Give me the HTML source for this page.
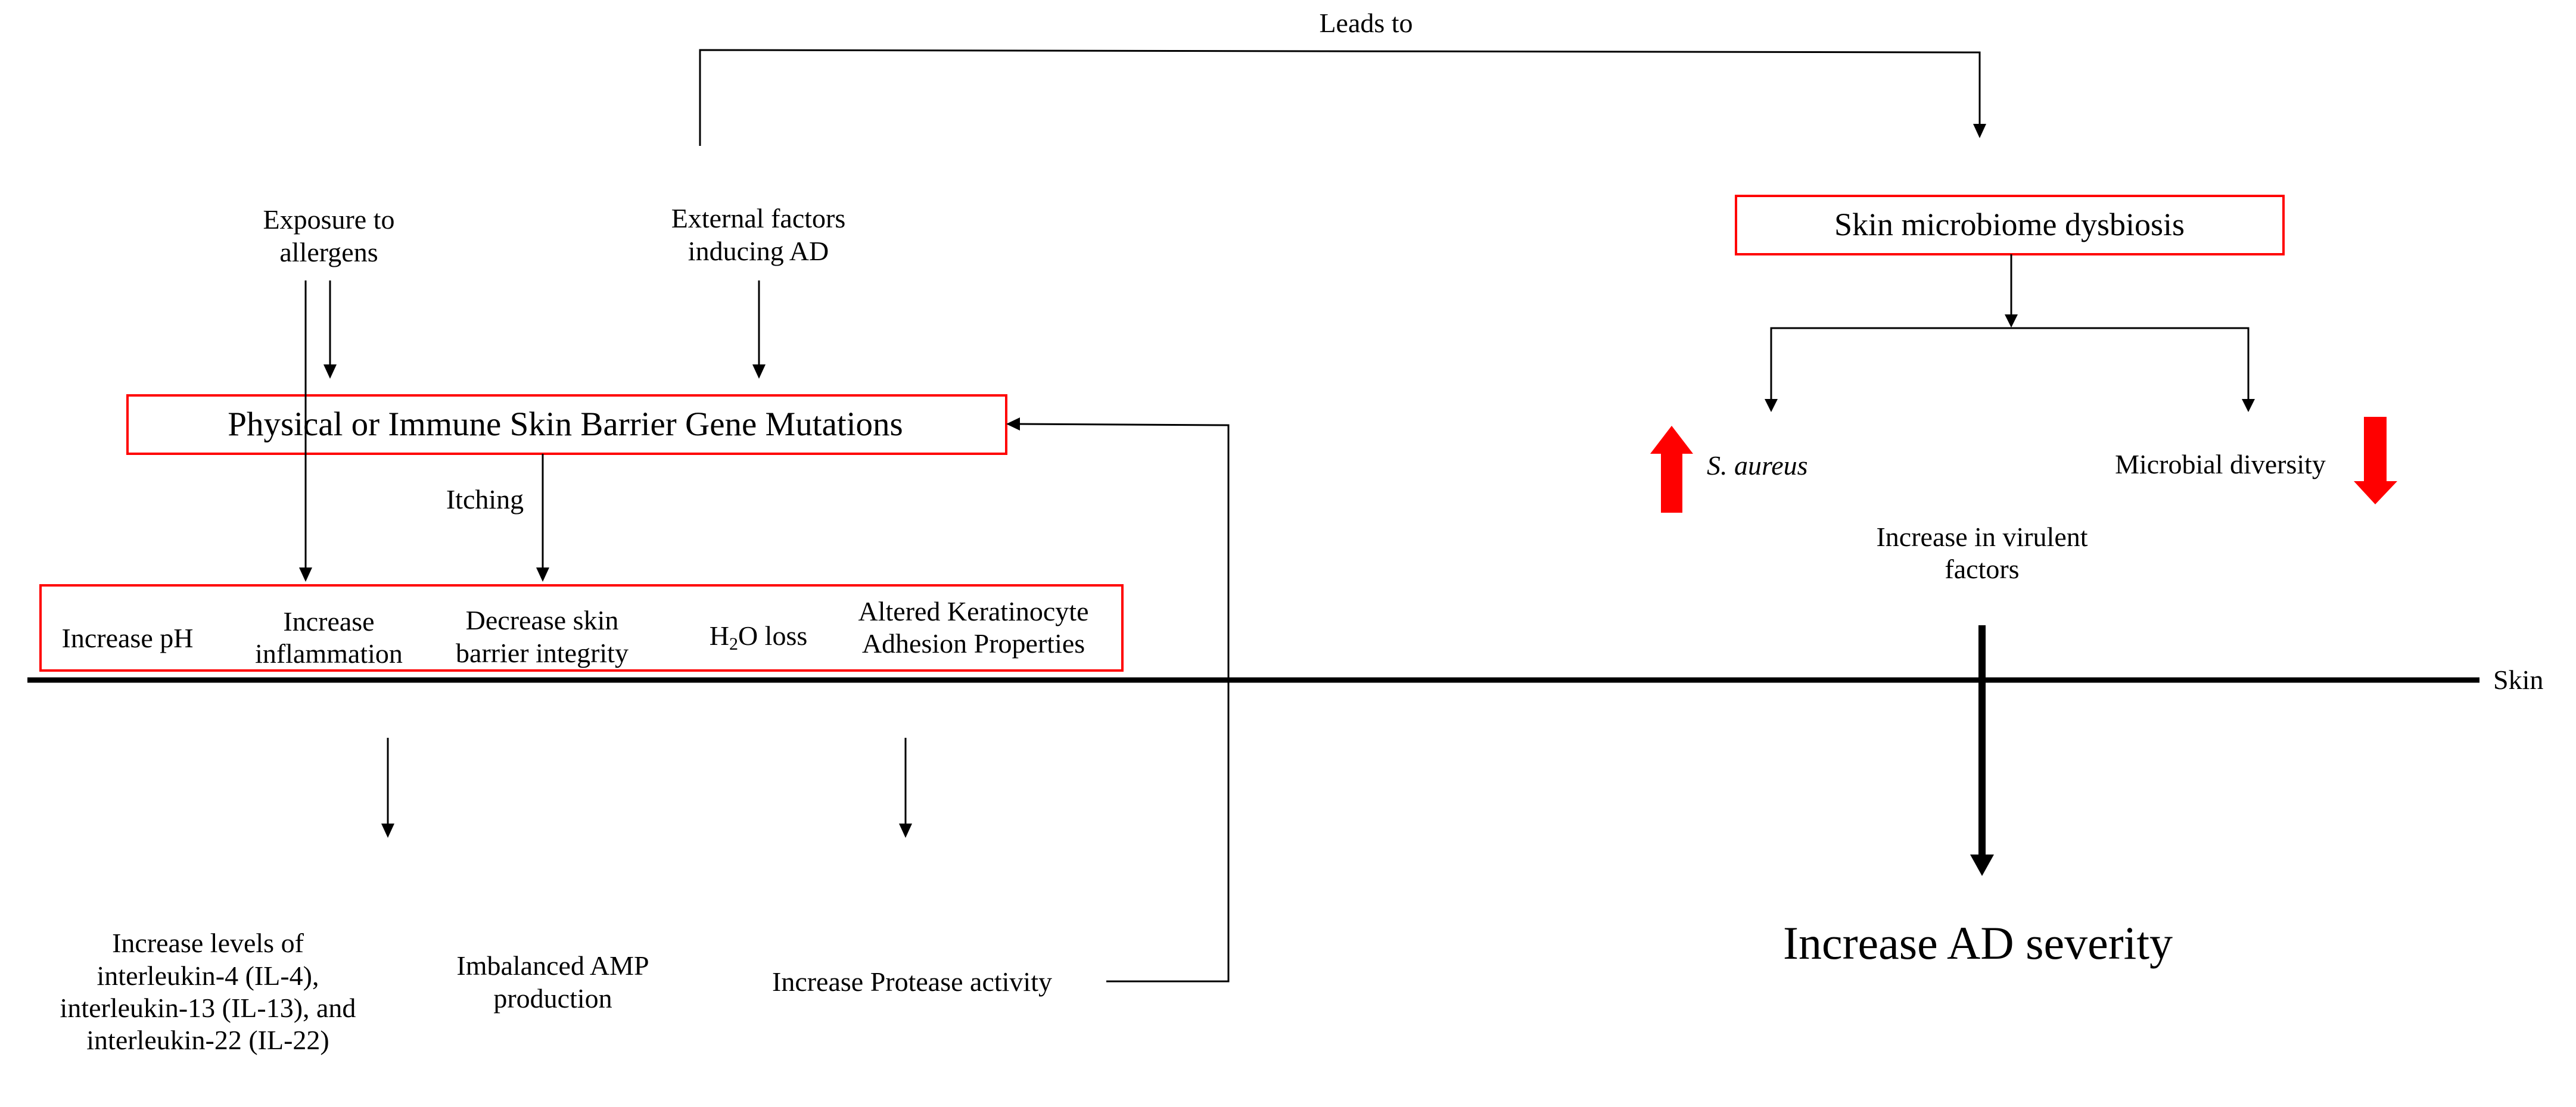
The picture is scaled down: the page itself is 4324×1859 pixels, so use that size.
<!DOCTYPE html>
<html><head><meta charset="utf-8"><style>
html,body{margin:0;padding:0;background:#fff;}
svg{display:block;}
text{font-family:"Liberation Serif",serif;fill:#000;}
</style></head><body>
<svg width="4324" height="1859" viewBox="0 0 4324 1859" xmlns="http://www.w3.org/2000/svg">
<g font-size="46" text-anchor="middle">
<polyline points="1175,245 1175,84 3323,88 3323,210" fill="none" stroke="#000" stroke-width="3"/>
<polygon points="3312,208 3334,208 3323,232" fill="#000"/>
<text x="2293" y="54">Leads to</text>

<text x="552" y="384">Exposure to</text>
<text x="552" y="439">allergens</text>
<text x="1273" y="382">External factors</text>
<text x="1273" y="437">inducing AD</text>

<line x1="554" y1="471" x2="554" y2="614" stroke="#000" stroke-width="3"/>
<polygon points="543,612 565,612 554,636" fill="#000"/>
<line x1="1274" y1="471" x2="1274" y2="614" stroke="#000" stroke-width="3"/>
<polygon points="1263,612 1285,612 1274,636" fill="#000"/>

<rect x="214" y="664" width="1475" height="98" fill="none" stroke="#f00" stroke-width="4"/>
<text x="949" y="731" font-size="57">Physical or Immune  Skin Barrier Gene Mutations</text>

<line x1="513" y1="471" x2="513" y2="955" stroke="#000" stroke-width="3"/>
<polygon points="502,953 524,953 513,977" fill="#000"/>
<line x1="911" y1="762" x2="911" y2="955" stroke="#000" stroke-width="3"/>
<polygon points="900,953 922,953 911,977" fill="#000"/>
<text x="814" y="854">Itching</text>

<rect x="68" y="983" width="1816" height="143" fill="none" stroke="#f00" stroke-width="4"/>
<text x="214" y="1087">Increase pH</text>
<text x="552" y="1059">Increase</text>
<text x="552" y="1113">inflammation</text>
<text x="910" y="1057">Decrease skin</text>
<text x="910" y="1112">barrier integrity</text>
<text x="1273" y="1083">H<tspan font-size="30" dy="8">2</tspan><tspan dy="-8">O loss</tspan></text>
<text x="1634" y="1042">Altered Keratinocyte</text>
<text x="1634" y="1096">Adhesion Properties</text>

<line x1="46" y1="1142" x2="4162" y2="1142" stroke="#000" stroke-width="9"/>
<text x="4185" y="1157" text-anchor="start">Skin</text>

<line x1="651" y1="1239" x2="651" y2="1385" stroke="#000" stroke-width="3"/>
<polygon points="640,1383 662,1383 651,1407" fill="#000"/>
<line x1="1520" y1="1239" x2="1520" y2="1385" stroke="#000" stroke-width="3"/>
<polygon points="1509,1383 1531,1383 1520,1407" fill="#000"/>

<text x="349" y="1599">Increase levels of</text>
<text x="349" y="1654">interleukin-4 (IL-4),</text>
<text x="349" y="1708">interleukin-13 (IL-13), and</text>
<text x="349" y="1762">interleukin-22 (IL-22)</text>
<text x="928" y="1637">Imbalanced AMP</text>
<text x="928" y="1692">production</text>
<text x="1531" y="1664">Increase Protease activity</text>

<polyline points="1857,1648 2062,1648 2062,714 1710,712" fill="none" stroke="#000" stroke-width="3"/>
<polygon points="1689,712 1712,701 1712,723" fill="#000"/>

<rect x="2914" y="329" width="919" height="98" fill="none" stroke="#f00" stroke-width="4"/>
<text x="3373" y="395" font-size="54">Skin microbiome dysbiosis</text>
<line x1="3376" y1="427" x2="3376" y2="530" stroke="#000" stroke-width="3"/>
<polygon points="3365,528 3387,528 3376,550" fill="#000"/>
<polyline points="2973,672 2973,551 3774,551 3774,672" fill="none" stroke="#000" stroke-width="3"/>
<polygon points="2962,670 2984,670 2973,692" fill="#000"/>
<polygon points="3763,670 3785,670 3774,692" fill="#000"/>

<polygon points="2806,715 2842,762 2824,762 2824,861 2788,861 2788,762 2770,762" fill="#f00"/>
<text x="2865" y="797" text-anchor="start" font-style="italic">S. aureus</text>
<text x="3727" y="795">Microbial diversity</text>
<polygon points="3968,700 4006,700 4006,808 4024,808 3987,847 3951,808 3968,808" fill="#f00"/>

<text x="3327" y="917">Increase in virulent</text>
<text x="3327" y="971">factors</text>

<line x1="3327" y1="1050" x2="3327" y2="1440" stroke="#000" stroke-width="12"/>
<polygon points="3307,1435 3347,1435 3327,1471" fill="#000"/>
<text x="3320" y="1610" font-size="78">Increase AD severity</text>
</g>
</svg>
</body></html>
